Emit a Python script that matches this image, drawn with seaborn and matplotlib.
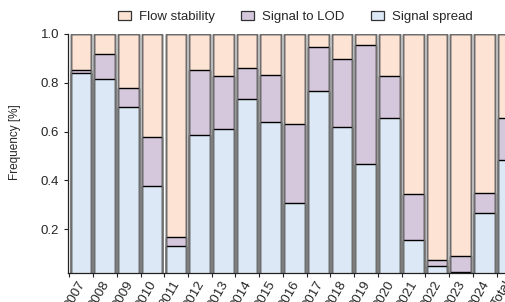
import numpy as np
import pandas as pd
import matplotlib
matplotlib.use("Agg")
import matplotlib.pyplot as plt
import matplotlib.transforms as mtransforms
import seaborn as sns

# data (fractions of each year)
years = ["2007", "2008", "2009", "2010", "2011", "2012", "2013", "2014", "2015",
         "2016", "2017", "2018", "2019", "2020", "2021", "2022", "2023", "2024", "Total"]
signal_spread = [0.839, 0.814, 0.702, 0.376, 0.131, 0.584, 0.609, 0.735, 0.638,
                 0.307, 0.767, 0.620, 0.468, 0.657, 0.154, 0.050, 0.025, 0.268, 0.484]
signal_to_lod = [0.012, 0.105, 0.076, 0.201, 0.036, 0.270, 0.220, 0.125, 0.194,
                 0.322, 0.178, 0.277, 0.485, 0.169, 0.190, 0.022, 0.064, 0.082, 0.170]
flow_stability = [1 - a - b for a, b in zip(signal_spread, signal_to_lod)]

labels = ["Flow stability", "Signal to LOD", "Signal spread"]
colors = ["#fce3d4", "#d6c8dc", "#dce8f5"]

df = pd.DataFrame({"year": years, "spread": signal_spread,
                   "lod": signal_to_lod, "flow": flow_stability})
df["top_lod"] = df["spread"] + df["lod"]
df["top_flow"] = df["top_lod"] + df["flow"]

sns.set_style("ticks")
plt.rcParams["font.family"] = ["Liberation Sans", "DejaVu Sans"]

fig = plt.figure(figsize=(5.05, 3.02), dpi=100)
ax = fig.add_axes([68 / 505, 29 / 302, 452 / 505, 239 / 302])

# stacked bars drawn as layers, tallest first
for col, c in zip(["top_flow", "top_lod", "spread"], colors):
    sns.barplot(data=df, x="year", y=col, color=c, saturation=1, width=0.87,
                edgecolor="black", linewidth=1.0, ax=ax)
# grey outline around each whole bar
sns.barplot(data=df, x="year", y="top_flow", color="#6e6e6e", fill=False,
            width=0.87, linewidth=1.0, ax=ax)

n = len(years)
ax.tick_params(length=3, width=0.8, color="#222222")
ax.tick_params(axis="x", pad=1)
ax.set_xticks(np.arange(n) - 0.49)
ax.set_xticklabels(years, rotation=60, ha="center", fontsize=9.5)
shift = mtransforms.ScaledTranslation(6 / 100, 0, fig.dpi_scale_trans)
for t in ax.get_xticklabels():
    t.set_transform(t.get_transform() + shift)

ax.set_xlim(-0.545, 18.5)
ax.set_ylim(0.02, 1.0)
ax.set_yticks([0.2, 0.4, 0.6, 0.8, 1.0])
ax.set_yticklabels(["0.2", "0.4", "0.6", "0.8", "1.0"], fontsize=9.5)
ax.set_xlabel("")
ax.set_ylabel("Frequency [%]", fontsize=8.5)
ax.yaxis.set_label_coords(-0.104, 0.548)
sns.despine(ax=ax)
for s in ["left", "bottom"]:
    ax.spines[s].set_linewidth(0.9)
    ax.spines[s].set_color("#222222")

handles = [plt.Rectangle((0, 0), 1, 1, facecolor=c, edgecolor="#333333", linewidth=0.9)
           for c in colors]
fig.legend(handles, labels, loc="center", bbox_to_anchor=(0.585, 0.944), ncol=3,
           frameon=False, fontsize=9.5, handlelength=1.0, handleheight=0.75,
           handletextpad=0.6, columnspacing=2.0)

fig.savefig("out.png", dpi=100)
